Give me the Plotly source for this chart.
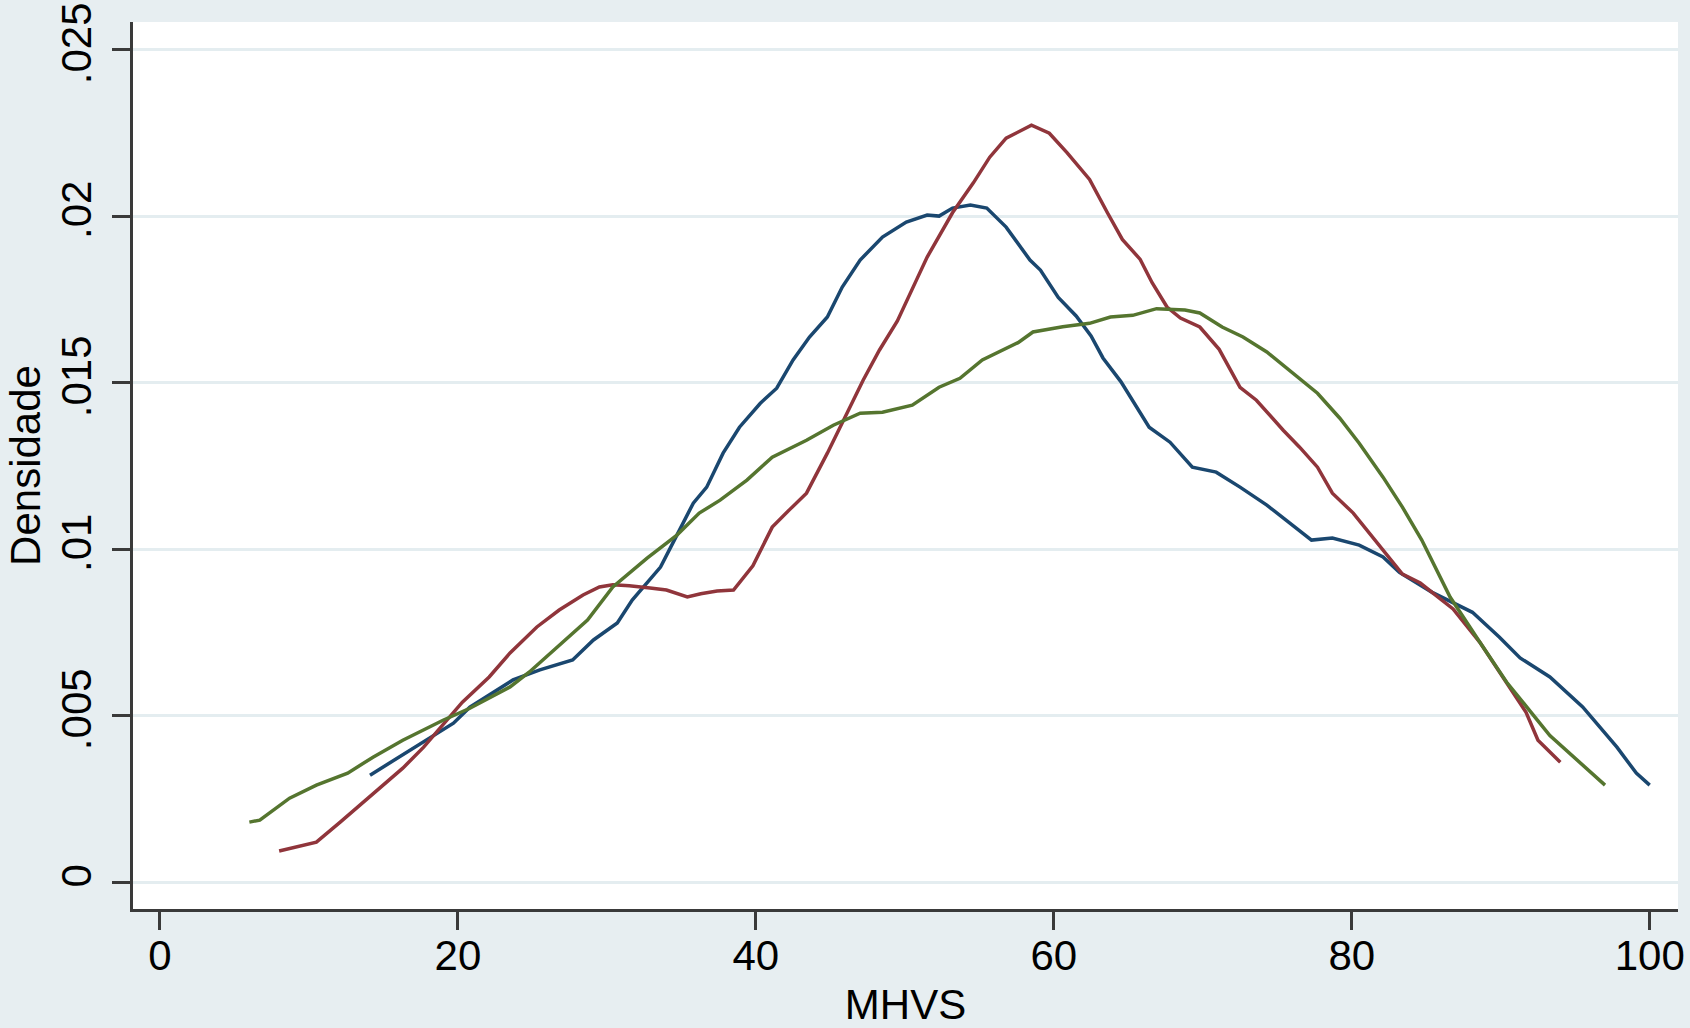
import plotly.graph_objects as go

# ---- data ----
blue_x = [14.1, 16.8, 19.7, 20.8, 23.7, 25.5, 27.7, 29.1, 30.7, 31.7, 33.6, 34.7, 35.8, 36.7,
          37.8, 38.9, 40.3, 41.4, 42.5, 43.6, 44.8, 45.8, 47.0, 48.5, 50.1, 51.5, 52.3, 53.2,
          54.4, 55.5, 56.8, 58.4, 59.1, 60.3, 61.5, 62.5, 63.3, 64.5, 66.4, 67.8, 69.3, 70.9,
          72.5, 74.3, 75.8, 77.3, 78.7, 80.5, 82.1, 83.2, 85.4, 88.1, 89.9, 91.3, 93.3, 95.5,
          97.8, 99.1, 100.0]
blue_y = [0.00321, 0.00396, 0.00477, 0.00525, 0.00607, 0.00637, 0.00667, 0.00727, 0.00778,
          0.00847, 0.00946, 0.01042, 0.01138, 0.01186, 0.01288, 0.01366, 0.01438, 0.01483,
          0.01568, 0.01637, 0.01697, 0.01787, 0.01868, 0.01937, 0.01982, 0.02003, 0.02000,
          0.02024, 0.02033, 0.02024, 0.01967, 0.01868, 0.01838, 0.01756, 0.01700, 0.01640,
          0.01574, 0.01503, 0.01366, 0.01321, 0.01246, 0.01231, 0.01186, 0.01132, 0.01081,
          0.01027, 0.01033, 0.01012, 0.00976, 0.00930, 0.00870, 0.00810, 0.00736, 0.00673,
          0.00616, 0.00526, 0.00405, 0.00327, 0.00291]

red_x = [8.0, 10.5, 12.1, 13.6, 14.8, 16.3, 17.7, 19.0, 20.3, 22.1, 23.5, 25.3, 26.8, 28.4,
         29.5, 30.4, 31.5, 32.9, 34.0, 35.4, 36.3, 37.4, 38.5, 39.8, 41.1, 42.3, 43.4, 44.8,
         46.1, 47.2, 48.3, 49.5, 50.8, 51.5, 53.2, 54.6, 55.7, 56.8, 58.5, 59.7, 60.9, 62.4,
         63.6, 64.6, 65.8, 66.6, 67.6, 68.5, 69.8, 71.1, 72.5, 73.6, 75.4, 76.5, 77.7, 78.7,
         80.1, 81.7, 83.4, 84.6, 85.4, 86.8, 88.6, 90.4, 91.7, 92.5, 94.0]
red_y = [0.00093, 0.00120, 0.00180, 0.00237, 0.00285, 0.00342, 0.00405, 0.00471, 0.00540,
         0.00616, 0.00688, 0.00766, 0.00817, 0.00862, 0.00886, 0.00893, 0.00890, 0.00883,
         0.00877, 0.00856, 0.00866, 0.00874, 0.00877, 0.00950, 0.01066, 0.01120, 0.01168,
         0.01288, 0.01408, 0.01507, 0.01598, 0.01685, 0.01810, 0.01877, 0.02010, 0.02100,
         0.02177, 0.02234, 0.02273, 0.02249, 0.02190, 0.02110, 0.02010, 0.01930, 0.01870,
         0.01800, 0.01727, 0.01694, 0.01667, 0.01600, 0.01486, 0.01447, 0.01357, 0.01306,
         0.01246, 0.01168, 0.01108, 0.01018, 0.00925, 0.00898, 0.00870, 0.00820, 0.00720,
         0.00600, 0.00510, 0.00426, 0.00360]

green_x = [6.0, 6.7, 8.7, 10.5, 12.6, 14.3, 16.3, 19.0, 20.8, 23.5, 24.8, 26.6, 28.7, 30.4,
           32.7, 34.7, 36.2, 37.6, 39.4, 41.1, 43.4, 45.2, 47.0, 48.5, 50.5, 52.3, 53.7, 55.2,
           56.4, 57.6, 58.6, 60.6, 62.4, 63.8, 65.3, 66.9, 68.8, 69.8, 71.3, 72.7, 74.3, 76.0,
           77.7, 79.2, 80.5, 82.1, 83.4, 84.7, 86.6, 88.6, 90.4, 93.3, 95.3, 97.0]
green_y = [0.00180, 0.00186, 0.00252, 0.00291, 0.00327, 0.00375, 0.00426, 0.00486, 0.00522,
           0.00586, 0.00631, 0.00703, 0.00787, 0.00886, 0.00973, 0.01042, 0.01108, 0.01147,
           0.01207, 0.01276, 0.01327, 0.01372, 0.01408, 0.01411, 0.01432, 0.01486, 0.01513,
           0.01568, 0.01595, 0.01620, 0.01652, 0.01668, 0.01678, 0.01697, 0.01702, 0.01722,
           0.01718, 0.01709, 0.01667, 0.01637, 0.01592, 0.01529, 0.01468, 0.01393, 0.01318,
           0.01216, 0.01126, 0.01027, 0.00856, 0.00720, 0.00600, 0.00440, 0.00360, 0.00291]

x_ticks = [0, 20, 40, 60, 80, 100]
x_ticktext = ["0", "20", "40", "60", "80", "100"]
y_ticks = [0, 0.005, 0.01, 0.015, 0.02, 0.025]
y_ticktext = ["0", ".005", ".01", ".015", ".02", ".025"]

x_title = "MHVS"
y_title = "Densidade"

# ---- styles ----
NAVY = "#1a476f"
MAROON = "#90353b"
GREEN = "#55752f"
BG = "#e7eef1"
GRID = "#e4edf0"
AXIS = "#3a3a3a"
FONT = "Liberation Sans, Arial, sans-serif"

fig = go.Figure()
for xs, ys, col in [(blue_x, blue_y, NAVY), (red_x, red_y, MAROON), (green_x, green_y, GREEN)]:
    fig.add_trace(go.Scatter(x=xs, y=ys, mode="lines",
                             line=dict(color=col, width=3.5), showlegend=False))

fig.update_layout(
    width=1690, height=1028,
    paper_bgcolor=BG, plot_bgcolor="white",
    margin=dict(l=133, r=12, t=22, b=119, autoexpand=False),
    font=dict(family=FONT, size=42, color="black"),
    showlegend=False,
)
fig.update_xaxes(
    range=[-1.81, 101.9], tickvals=x_ticks, ticktext=x_ticktext,
    showgrid=False, zeroline=False, automargin=False,
    showline=True, linecolor=AXIS, linewidth=2.5,
    ticks="outside", ticklen=18, tickwidth=2.5, tickcolor=AXIS,
    ticklabelstandoff=-10,
    tickfont=dict(size=42),
    title=dict(text=x_title, font=dict(size=42), standoff=33),
)
fig.update_yaxes(
    range=[-0.00081, 0.02583], tickvals=y_ticks, ticktext=y_ticktext,
    showgrid=True, gridcolor=GRID, gridwidth=2.5, zeroline=False, automargin=False,
    showline=True, linecolor=AXIS, linewidth=2.5,
    ticks="outside", ticklen=18, tickwidth=2.5, tickcolor=AXIS,
    tickangle=-90, ticklabelstandoff=4,
    tickfont=dict(size=42),
    title=dict(text=y_title, font=dict(size=42), standoff=0),
)

fig.write_html(
    "out.html",
    config={"displayModeBar": False},
    post_script="document.body.style.margin='0';document.body.style.overflow='hidden';",
)
